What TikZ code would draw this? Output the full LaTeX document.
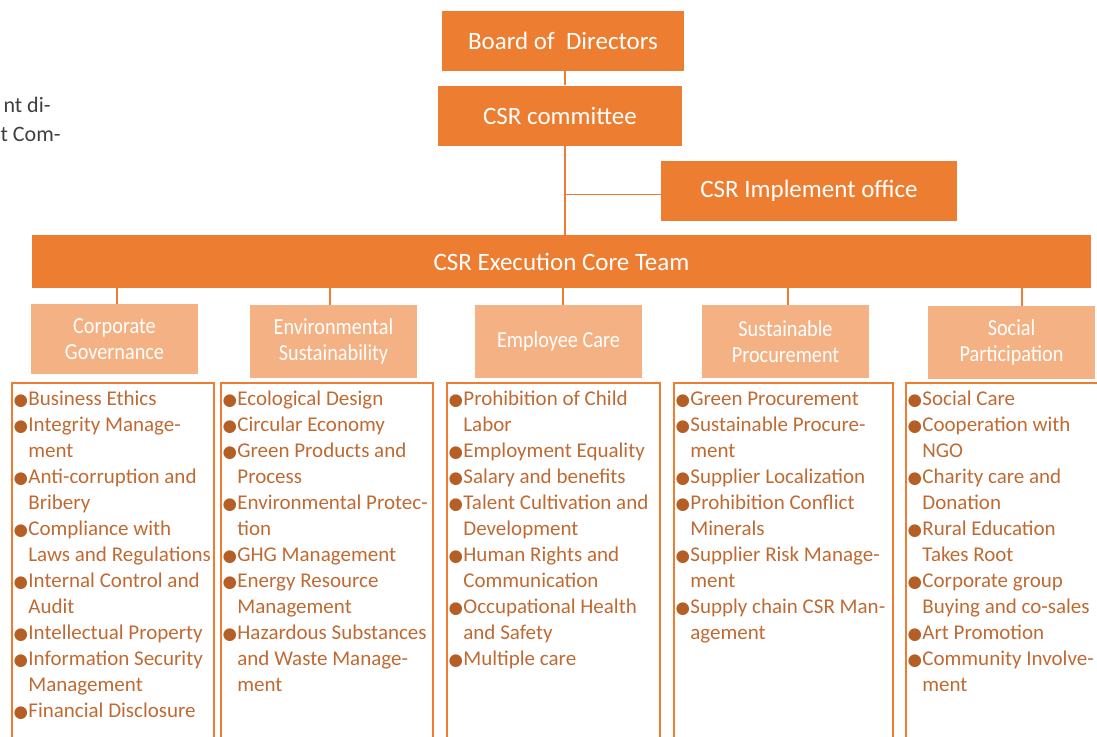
\documentclass[tikz,border=0pt]{standalone}
\usepackage{fontspec}
\setmainfont{Carlito}
\newfontfamily\symfont{DejaVu Sans}
\newfontfamily\catfont{Carlito}[FakeStretch=0.88]
\definecolor{csrorange}{HTML}{ED7D31}
\definecolor{csrpeach}{HTML}{F4B183}
\definecolor{itemtext}{HTML}{BF6A32}
\definecolor{itemdot}{HTML}{B55F26}
\definecolor{bodytext}{HTML}{3F3F3F}
\newcommand{\bl}{\strut\makebox[8pt][l]{\hspace{0.6pt}\textcolor{itemdot}{\symfont\fontsize{8.3}{8.3}\selectfont ●}}}
\newcommand{\ind}{\strut\hspace*{8pt}}
\tikzset{
  headbox/.style={fill=csrorange, text=white, inner sep=0, minimum height=30pt, font=\fontsize{12.5}{15}\selectfont},
  catbox/.style={fill=csrpeach, text=white, inner sep=0, minimum width=83.5pt, minimum height=36.5pt, align=center, font=\catfont\fontsize{11.5}{12.8}\selectfont},
  framebox/.style={draw=csrorange, line width=0.6pt, anchor=north west, inner sep=0, outer sep=0, minimum height=183.5pt},
  itemlist/.style={anchor=north west, inner sep=0, align=left, text=itemtext, font=\fontsize{10.5}{13}\selectfont},
  link/.style={draw=csrorange, line width=0.8pt},
}
\begin{document}
\begin{tikzpicture}[x=0.5pt, y=-0.5pt]
\useasboundingbox (0,0) rectangle (1097,736);
\node[text=bodytext, anchor=base east, inner sep=0, font=\fontsize{11}{13}\selectfont] (frag1) at (51,112.5) {nt di-};
\node[text=bodytext, anchor=base east, inner sep=0, font=\fontsize{11}{13}\selectfont] (frag2) at (61,141.5) {t Com-};
\node[headbox, minimum width=121pt] (board) at (563,40.5) {Board of\ \ Directors};
\node[headbox, minimum width=122pt] (cttee) at (560,115.5) {CSR committee};
\node[headbox, minimum width=148pt] (office) at (809,190.5) {CSR Implement office};
\node[headbox, minimum width=529.5pt, minimum height=26.5pt] (team) at (561.5,261.5) {CSR Execution Core Team};
\draw[link] (565,0 |- board.south) -- (565,0 |- cttee.north);
\draw[link] (565,0 |- cttee.south) -- (565,0 |- team.north);
\draw[link] ([yshift=-2pt]office.west) -- +(-96,0);
\node[catbox, minimum height=35pt] (cg) at (114.5,339) {Corporate\\Governance};
\node[catbox] (es) at (333.5,341.5) {Environmental\\Sustainability};
\node[catbox] (ec) at (558.5,341.5) {Employee Care};
\node[catbox] (sp) at (785.5,341.5) {Sustainable\\Procurement};
\node[catbox] (soc) at (1011.5,342.5) {Social\\Participation};
\foreach \n/\x in {cg/117, es/330, ec/563, sp/788, soc/1022}
  \draw[link] (\x,0 |- team.south) -- (\x,0 |- \n.north);
\node[framebox, minimum width=101pt] (f1) at (12,383) {};
\node[framebox, minimum width=106pt] (f2) at (221,383) {};
\node[framebox, minimum width=106.5pt] (f3) at (447,383) {};
\node[framebox, minimum width=109.5pt] (f4) at (674,383) {};
\node[framebox, minimum width=99pt] (f5) at (906,383) {};
\node[itemlist] (gov) at ([shift={(0,3.5)}]f1.north west) {\bl Business Ethics\\ \bl Integrity Manage-\\ \ind ment\\ \bl Anti-corruption and\\ \ind Bribery\\ \bl Compliance with\\ \ind Laws and Regulations\\ \bl Internal Control and\\ \ind Audit\\ \bl Intellectual Property\\ \bl Information Security\\ \ind Management\\ \bl Financial Disclosure};
\node[itemlist] (env) at ([shift={(0,3.5)}]f2.north west) {\bl Ecological Design\\ \bl Circular Economy\\ \bl Green Products and\\ \ind Process\\ \bl Environmental Protec-\\ \ind tion\\ \bl GHG Management\\ \bl Energy Resource\\ \ind Management\\ \bl Hazardous Substances\\ \ind and Waste Manage-\\ \ind ment};
\node[itemlist] (emp) at ([shift={(0,3.5)}]f3.north west) {\bl Prohibition of Child\\ \ind Labor\\ \bl Employment Equality\\ \bl Salary and benefits\\ \bl Talent Cultivation and\\ \ind Development\\ \bl Human Rights and\\ \ind Communication\\ \bl Occupational Health\\ \ind and Safety\\ \bl Multiple care};
\node[itemlist] (proc) at ([shift={(0,3.5)}]f4.north west) {\bl Green Procurement\\ \bl Sustainable Procure-\\ \ind ment\\ \bl Supplier Localization\\ \bl Prohibition Conflict\\ \ind Minerals\\ \bl Supplier Risk Manage-\\ \ind ment\\ \bl Supply chain CSR Man-\\ \ind agement};
\node[itemlist] (part) at ([shift={(0,3.5)}]f5.north west) {\bl Social Care\\ \bl Cooperation with\\ \ind NGO\\ \bl Charity care and\\ \ind Donation\\ \bl Rural Education\\ \ind Takes Root\\ \bl Corporate group\\ \ind Buying and co-sales\\ \bl Art Promotion\\ \bl Community Involve-\\ \ind ment};
\end{tikzpicture}
\end{document}
